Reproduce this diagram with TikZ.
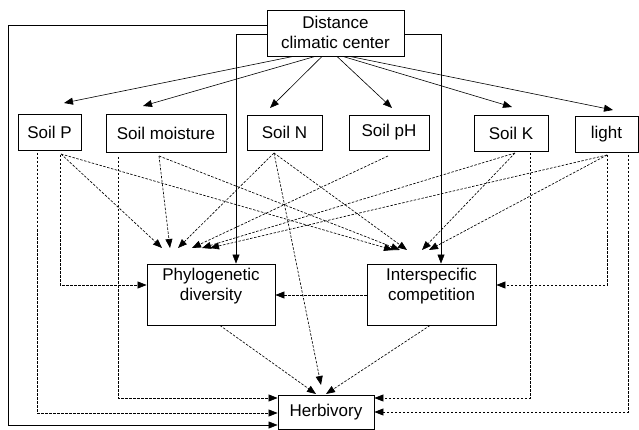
\documentclass[tikz,border=0pt]{standalone}
\usepackage{fontspec}
\setmainfont{Liberation Sans}
\usetikzlibrary{arrows.meta}
\begin{document}
\begin{tikzpicture}[x=1pt,y=-1pt,
  box/.style={draw, line width=0.9pt, inner sep=0pt},
  lbl/.style={inner sep=0pt, align=center, font=\fontsize{17}{20}\selectfont},
  sol/.style={line width=0.6pt, -{Triangle[length=9pt,width=7pt]}},
  dsh/.style={line width=0.65pt, dash pattern=on 2.5pt off 1.5pt, -{Triangle[length=9pt,width=7pt]}}]
\useasboundingbox (0,0) rectangle (639,430);
% boxes
\node[box, minimum width=137pt, minimum height=46pt] (dist) at (335.5,33) {};
\node[lbl] (distt) at (335.5,32) {Distance\\climatic center};
\node[box, lbl, minimum width=63pt, minimum height=36pt] (sp) at (49.5,132) {Soil P};
\node[box, lbl, minimum width=120pt, minimum height=38pt] (sm) at (166,133) {Soil moisture};
\node[box, lbl, minimum width=75pt, minimum height=35pt] (sn) at (284.5,132.5) {Soil N};
\node[box, lbl, minimum width=80pt, minimum height=35pt] (sph) at (389,132.5) {Soil pH};
\node[box, lbl, minimum width=74pt, minimum height=36pt] (sk) at (511,133) {Soil K};
\node[box, lbl, minimum width=63pt, minimum height=36pt] (li) at (606.5,134) {light};
\node[box, minimum width=128pt, minimum height=61pt] (pd) at (211,294.5) {};
\node[lbl] (pdt) at (211,286.5) {Phylogenetic\\diversity};
\node[box, minimum width=129pt, minimum height=61pt] (ic) at (431.5,294.5) {};
\node[lbl] (ict) at (431.5,286.5) {Interspecific\\competition};
\node[box, lbl, minimum width=96pt, minimum height=34pt] (hb) at (326,412) {Herbivory};

% start / end points
\coordinate (pS) at (61,154);
\coordinate (mS) at (159,156);
\coordinate (nS) at (274,153);
\coordinate (hS) at (388,156);
\coordinate (kS) at (515,153);
\coordinate (lS) at (607,155);

% solid connectors from Distance
\draw[sol] (dist.west |- 0,25) -| (8,425) -- (hb.west |- 0,425);
\draw[sol] (dist.west |- 0,34) -| (pd.north -| 236,0);
\draw[sol] (dist.east |- 0,34) -| (ic.north -| 441,0);
\draw[sol] (dist.south -| 293,0) -- (64,103);
\draw[sol] (dist.south -| 315,0) -- (143,106);
\draw[sol] (dist.south -| 322,0) -- (270,108);
\draw[sol] (dist.south -| 337,0) -- (392,108);
\draw[sol] (dist.south -| 343,0) -- (512,107);
\draw[sol] (dist.south -| 350,0) -- (613,110);

% dashed to Phylogenetic diversity
\draw[dsh] (pS) -- (162,248);
\draw[dsh] (mS) -- (170,248);
\draw[dsh] (nS) -- (178,248);
\draw[dsh] (hS) -- (192,248);
\draw[dsh] (kS) -- (202,248);
\draw[dsh] (lS) -- (210,248);

% dashed to Interspecific competition
\draw[dsh] (pS) -- (393,250);
\draw[dsh] (mS) -- (400,250);
\draw[dsh] (nS) -- (407,250);
\draw[dsh] (kS) -- (422,250);
\draw[dsh] (lS) -- (429,250);

% dashed elbows
\draw[dsh] (37,153) |- (hb.west |- 0,413);
\draw[dsh] (60,155) |- (pd.west |- 0,285);
\draw[dsh] (118,157) |- (hb.west |- 0,398);
\draw[dsh] (530,153) |- (hb.east |- 0,398);
\draw[dsh] (607,155) |- (ic.east |- 0,285);
\draw[dsh] (628,155) |- (hb.east |- 0,412);

% other dashed
\draw[dsh] (ic.west |- 0,295) -- (pd.east |- 0,295);
\draw[dsh] (nS) -- (321,385);
\draw[dsh] (pd.south -| 220,0) -- (316,394);
\draw[dsh] (ic.south -| 430,0) -- (326,394);
\end{tikzpicture}
\end{document}
